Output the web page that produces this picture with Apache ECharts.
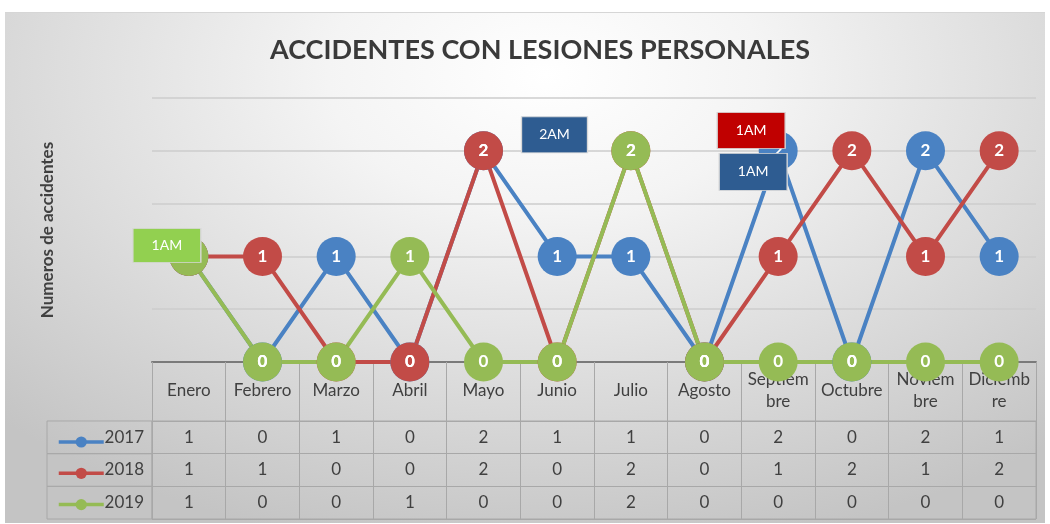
<!DOCTYPE html>
<html>
<head>
<meta charset="utf-8">
<script src="https://cdn.jsdelivr.net/npm/echarts@6.0.0/dist/echarts.min.js"></script>
<style>
  html, body { margin: 0; padding: 0; background: #fff; }
  #hoja {
    position: absolute; left: 0; top: 0; width: 1050px; height: 12px;
    background: repeating-linear-gradient(90deg, #fff 0, #fff 116px, #ececec 116px, #ececec 117px);
    background-size: 110.7px 12px;
  }
  #chart {
    position: absolute; left: 5px; top: 12px; width: 1040px; height: 510px;
    background: radial-gradient(ellipse 75% 95% at 52% 12%, #ffffff 0%, #f4f4f4 28%, #c4c4c4 100%);
    border-top: 1px solid #d6d6d6;
  }
</style>
</head>
<body>
<div id="hoja"></div>
<div id="chart"></div>
<script>
var meses = ['Enero', 'Febrero', 'Marzo', 'Abril', 'Mayo', 'Junio', 'Julio', 'Agosto', 'Septiembre', 'Octubre', 'Noviembre', 'Diciembre'];
var anios = ['2017', '2018', '2019'];
var datos2017 = [1, 0, 1, 0, 2, 1, 1, 0, 2, 0, 2, 1];
var datos2018 = [1, 1, 0, 0, 2, 0, 2, 0, 1, 2, 1, 2];
var datos2019 = [1, 0, 0, 1, 0, 0, 2, 0, 0, 0, 0, 0];
// cuadros de texto sueltos que hay sobre el grafico
var notas = [
  { serie: '2017', mes: 'Mayo', texto: '2AM' },
  { serie: '2019', mes: 'Enero', texto: '1AM' },
  { serie: '2018', mes: 'Septiembre', texto: '1AM' },
  { serie: '2017', mes: 'Septiembre', texto: '1AM' }
];

var fuente = 'Lato, "Open Sans", sans-serif';
var gris = '#404040';
var borde = '#a8a8a8';
var colores = { '2017': '#4A82C3', '2018': '#C24B47', '2019': '#95BB55' };
var estiloNota = [
  { color: '#2E5C91', offset: [71, -16], size: [66, 36] },
  { color: '#92D050', offset: [-22, -11], size: [68, 34] },
  { color: '#C00000', offset: [-27, -126], size: [68, 36] },
  { color: '#2E5C91', offset: [-25, 21], size: [68, 37] }
];
var serieDatos = { '2017': datos2017, '2018': datos2018, '2019': datos2019 };

var myChart = echarts.init(document.getElementById('chart'));

function marcas(anio) {
  var list = [];
  notas.forEach(function (n, i) {
    if (n.serie !== anio) return;
    var st = estiloNota[i];
    list.push({
      coord: [n.mes, serieDatos[anio][meses.indexOf(n.mes)]],
      symbol: 'rect',
      symbolSize: st.size,
      symbolOffset: st.offset,
      itemStyle: { color: st.color, borderColor: '#d8d8d8', borderWidth: 1 },
      label: { show: true, position: 'inside', formatter: n.texto, color: '#fff', fontSize: 14, fontFamily: fuente }
    });
  });
  return list;
}

var series = anios.map(function (anio) {
  return {
    name: anio,
    type: 'line',
    xAxisIndex: 0,
    yAxisIndex: 0,
    data: serieDatos[anio],
    symbol: 'circle',
    symbolSize: 39,
    itemStyle: { color: colores[anio] },
    lineStyle: { width: 4, color: colores[anio] },
    label: {
      show: true, position: 'inside', color: '#fff',
      fontSize: 17, fontWeight: 'bold', fontFamily: fuente
    },
    markPoint: { symbol: 'rect', data: marcas(anio) }
  };
});

// celdas de la tabla de datos
var celdas = [];
anios.forEach(function (anio) {
  serieDatos[anio].forEach(function (v, i) {
    celdas.push([meses[i], anio, v]);
  });
});
series.push({
  type: 'custom',
  xAxisIndex: 1,
  yAxisIndex: 1,
  data: celdas,
  renderItem: function (params, api) {
    var p = api.coord([api.value(0), api.value(1)]);
    return {
      type: 'text',
      style: {
        x: p[0], y: p[1], text: String(api.value(2)),
        align: 'center', verticalAlign: 'middle',
        fill: gris, font: '17px ' + fuente
      }
    };
  }
});

myChart.setOption({
  animation: false,
  textStyle: { fontFamily: fuente },
  title: {
    text: 'ACCIDENTES CON LESIONES PERSONALES',
    left: 530,
    top: 19,
    textAlign: 'center',
    textStyle: { fontSize: 27, fontWeight: 'bold', color: '#3a3a3a', fontFamily: fuente }
  },
  legend: {
    data: anios,
    orient: 'vertical',
    left: 47,
    top: 417,
    itemWidth: 45,
    itemHeight: 14,
    itemGap: 18.7,
    lineStyle: { width: 3.5 },
    formatter: function () { return ''; },
    selectedMode: false
  },
  grid: [
    { left: 147, right: 9, top: 85, bottom: 161 },
    { left: 147, right: 9, top: 408, bottom: 4, show: true, borderColor: borde, borderWidth: 1 }
  ],
  xAxis: [
    {
      type: 'category',
      gridIndex: 0,
      data: meses,
      boundaryGap: true,
      axisLine: { lineStyle: { color: '#7a7a7a', width: 2 } },
      axisTick: { show: true, interval: 0, length: 59, lineStyle: { color: borde } },
      axisLabel: {
        interval: 0, color: gris, fontSize: 17, margin: 29,
        width: 66, overflow: 'breakAll', lineHeight: 22,
        verticalAlign: 'middle'
      },
      z: 1
    },
    {
      type: 'category',
      gridIndex: 1,
      data: meses,
      boundaryGap: true,
      axisLine: { show: false },
      axisTick: { show: false },
      axisLabel: { show: false },
      splitLine: { show: true, interval: 0, lineStyle: { color: borde } }
    }
  ],
  yAxis: [
    {
      type: 'value',
      gridIndex: 0,
      min: 0,
      max: 2.5,
      interval: 0.5,
      axisLabel: { show: false },
      axisLine: { show: false },
      axisTick: { show: false },
      splitLine: { lineStyle: { color: '#cccccc', width: 1.5 } },
      name: 'Numeros de accidentes',
      nameLocation: 'middle',
      nameGap: 96,
      nameTextStyle: { color: gris, fontSize: 17, fontWeight: 'bold' }
    },
    {
      type: 'category',
      gridIndex: 1,
      data: anios,
      inverse: true,
      axisLine: { show: false },
      axisTick: { show: false },
      splitLine: { show: true, interval: 0, lineStyle: { color: borde } },
      axisLabel: {
        interval: 0, margin: 0, align: 'right', verticalAlign: 'middle',
        color: gris, fontSize: 17,
        width: 97, height: 32.7, lineHeight: 32.7, padding: [0, 8, 0, 0],
        borderColor: borde, borderWidth: 1
      }
    }
  ],
  series: series
});
</script>
</body>
</html>
